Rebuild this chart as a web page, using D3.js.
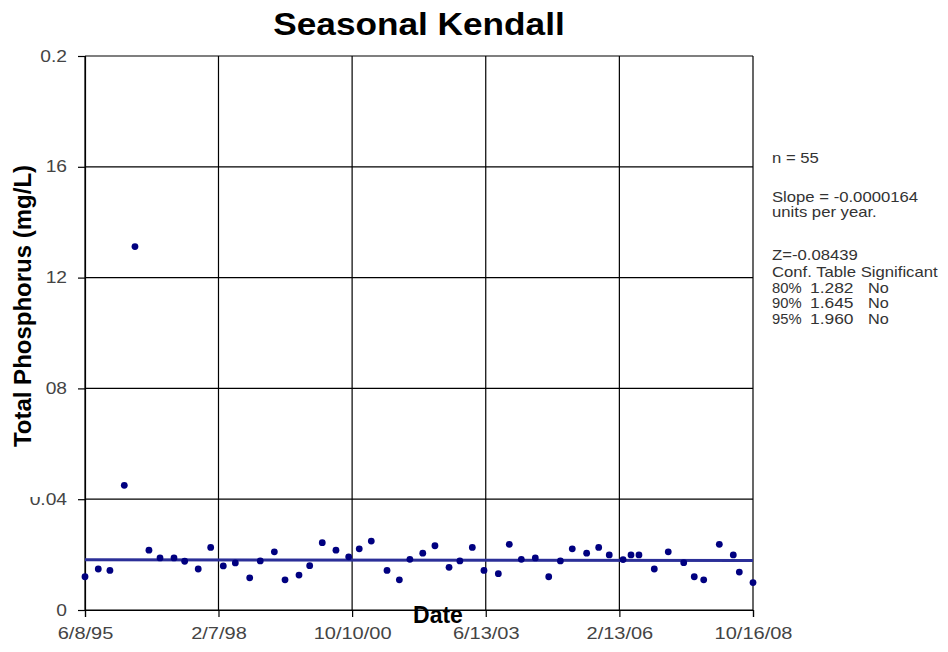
<!DOCTYPE html>
<html><head><meta charset="utf-8">
<script src="https://cdn.jsdelivr.net/npm/d3@7"></script>
<style>
body{margin:0;background:#fff;}
svg{display:block;font-family:Arial,"Liberation Sans",Helvetica,sans-serif;}
</style>
</head><body>
<svg id="chart" width="948" height="652"></svg>
<script>
// ---- data ----
const sampleDates = [
"1995-06-08","1995-09-13","1995-12-07","1996-03-21","1996-06-07","1996-09-17","1996-12-07","1997-03-19","1997-06-05","1997-09-12",
"1997-12-12","1998-03-14","1998-06-10","1998-09-23","1998-12-09","1999-03-22","1999-06-08","1999-09-18","1999-12-05","2000-03-06",
"2000-06-14","2000-09-15","2000-12-01","2001-02-27","2001-06-22","2001-09-20","2001-12-06","2002-03-10","2002-06-07","2002-09-18",
"2002-12-06","2003-03-07","2003-05-31","2003-09-13","2003-12-02","2004-02-28","2004-06-09","2004-09-15","2004-12-09","2005-03-06",
"2005-06-19","2005-09-15","2005-12-01","2006-03-12","2006-05-09","2006-07-06","2006-10-26","2007-02-05","2007-05-29","2007-08-14",
"2007-10-22","2008-02-13","2008-05-25","2008-07-08","2008-10-16"];
const phosphorus = [
0.0120,0.0148,0.0143,0.0450,0.1312,0.0216,0.0188,0.0188,0.0176,0.0148,
0.0226,0.0159,0.0170,0.0116,0.0177,0.0210,0.0109,0.0126,0.0160,0.0243,
0.0216,0.0192,0.0221,0.0249,0.0143,0.0109,0.0183,0.0205,0.0232,0.0154,
0.0177,0.0226,0.0143,0.0131,0.0237,0.0183,0.0188,0.0120,0.0177,0.0221,
0.0205,0.0226,0.0199,0.0182,0.0199,0.0199,0.0148,0.0210,0.0171,0.0120,
0.0109,0.0237,0.0199,0.0137,0.0099];
const xTickDates = ["1995-06-08","1998-02-07","2000-10-10","2003-06-13","2006-02-13","2008-10-16"];
const yTickValues = [0, 0.04, 0.08, 0.12, 0.16, 0.2];
const trendDates = ["1995-06-08","2008-10-16"];
const trendValues = [0.0181, 0.0179];
const chartTitle = "Seasonal Kendall";
const xTitle = "Date";
const yTitle = "Total Phosphorus (mg/L)";
const statsText = ["n = 55", "Slope = -0.0000164", "units per year.", "Z=-0.08439", "Conf. Table Significant"];
const confLevels = ["80%", "90%", "95%"];
const confZ = ["1.282", "1.645", "1.960"];
const confSignificant = ["No", "No", "No"];

// ---- layout ----
const parse = d3.timeParse("%Y-%m-%d");
const svg = d3.select("#chart");
const M = {left: 85, right: 753, top: 56, bottom: 610};

const x = d3.scaleTime()
  .domain([parse(xTickDates[0]), parse(xTickDates[xTickDates.length - 1])])
  .range([M.left, M.right]);
const y = d3.scaleLinear().domain([0, 0.2]).range([M.bottom, M.top]);

function stretch(sel, k) {
  sel.each(function() {
    const w = this.getComputedTextLength();
    d3.select(this).attr("textLength", w * k).attr("lengthAdjust", "spacingAndGlyphs");
  });
}

// grid
svg.append("g").selectAll("line").data(xTickDates).join("line")
  .attr("x1", d => x(parse(d))).attr("x2", d => x(parse(d)))
  .attr("y1", M.top).attr("y2", M.bottom)
  .attr("stroke", "#000").attr("stroke-width", 1.2);
svg.append("g").selectAll("line").data(yTickValues).join("line")
  .attr("x1", M.left).attr("x2", M.right)
  .attr("y1", d => y(d)).attr("y2", d => y(d))
  .attr("stroke", "#000").attr("stroke-width", 1.2);

// axes
const fmt = d3.timeFormat("%-m/%-d/%y");
const xAxis = svg.append("g").attr("transform", `translate(0,${M.bottom})`)
  .call(d3.axisBottom(x).tickValues(xTickDates.map(parse)).tickFormat(fmt).tickSize(7).tickPadding(11));
const yAxis = svg.append("g").attr("transform", `translate(${M.left},0)`)
  .call(d3.axisLeft(y).tickValues(yTickValues).tickFormat(d => String(d)).tickSize(7).tickPadding(11));
[xAxis, yAxis].forEach(a => {
  a.select(".domain").attr("stroke", "#000").attr("stroke-width", 1.2);
  a.selectAll(".tick line").attr("stroke", "#000").attr("stroke-width", 1.2);
  a.selectAll(".tick text").attr("fill", "#444").style("font-size", "16px")
    .style("font-family", "Arial, 'Liberation Sans', sans-serif");
});
stretch(xAxis.selectAll(".tick text"), 1.25);
stretch(yAxis.selectAll(".tick text"), 1.2);

// trend line
svg.append("path")
  .datum(trendDates.map((d, i) => ({date: parse(d), v: trendValues[i]})))
  .attr("fill", "none").attr("stroke", "#2b2f98").attr("stroke-width", 3)
  .attr("d", d3.line().x(d => x(d.date)).y(d => y(d.v)));

// points
svg.append("g").selectAll("circle").data(sampleDates.map((d, i) => ({date: parse(d), v: phosphorus[i]})))
  .join("circle")
  .attr("cx", d => x(d.date)).attr("cy", d => y(d.v)).attr("r", 3.4)
  .attr("fill", "#000080");

// title
const t = svg.append("text").attr("x", 419).attr("y", 35).attr("text-anchor", "middle")
  .style("font-size", "32px").style("font-weight", "bold").attr("fill", "#000").text(chartTitle);
stretch(t, 1.1);

// y title with white box
svg.append("rect").attr("x", 0).attr("y", 155).attr("width", 45.5).attr("height", 342).attr("fill", "#fff");
svg.append("text").attr("transform", "translate(31,306) rotate(-90)").attr("text-anchor", "middle")
  .style("font-size", "24px").style("font-weight", "bold").attr("fill", "#000").text(yTitle);

// x title
svg.append("text").attr("x", 438).attr("y", 623).attr("text-anchor", "middle")
  .style("font-size", "23px").style("font-weight", "bold").attr("fill", "#000").text(xTitle);

// stats annotation
const statsY = [163, 201.5, 216.5, 260, 276.5];
const st = svg.append("g").attr("fill", "#333").style("font-size", "14.5px");
const stTexts = st.selectAll("text.s").data(statsText).join("text").attr("class", "s")
  .attr("x", 772).attr("y", (d, i) => statsY[i]).text(d => d);
stretch(stTexts, 1.15);
const rowY = [292.5, 308, 323.5];
const cols = [[confLevels, 772, 1.02], [confZ, 810, 1.2], [confSignificant, 868, 1.12]];
cols.forEach(([arr, cx, k]) => {
  const s = st.selectAll(null).data(arr).join("text")
    .attr("x", cx).attr("y", (d, i) => rowY[i]).text(d => d);
  stretch(s, k);
});
</script>
</body></html>
